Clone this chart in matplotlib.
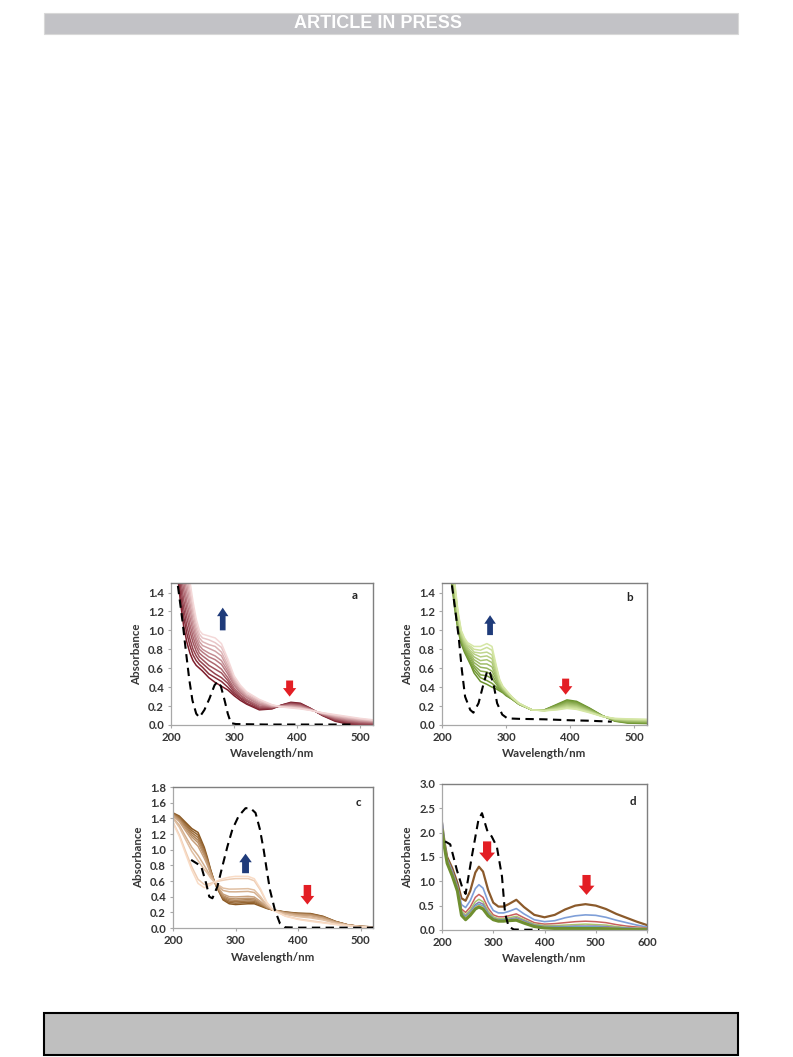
import numpy as np
import matplotlib.pyplot as plt
from matplotlib.patches import Rectangle, FancyArrow
from matplotlib.colors import to_rgb

plt.rcParams['font.family'] = ['Lato', 'DejaVu Sans']

# ---- panel a: 11 spectra, dark (first) -> light (last); one row per wavelength
wl_a = [210, 215, 220, 225, 230, 235, 240, 245, 250, 260, 270, 280, 290, 300,
        310, 320, 340, 360, 375, 390, 405, 420, 440, 460, 480, 500, 520]
abs_a = [
    [1.62, 1.70, 1.78, 1.86, 1.94, 2.02, 2.10, 2.18, 2.26, 2.33, 2.40],
    [1.30, 1.39, 1.48, 1.57, 1.66, 1.75, 1.84, 1.93, 2.02, 2.11, 2.20],
    [1.05, 1.15, 1.24, 1.33, 1.43, 1.52, 1.62, 1.71, 1.81, 1.90, 2.00],
    [0.88, 0.97, 1.05, 1.14, 1.23, 1.31, 1.40, 1.49, 1.58, 1.66, 1.75],
    [0.76, 0.84, 0.91, 0.99, 1.06, 1.14, 1.22, 1.29, 1.37, 1.44, 1.52],
    [0.68, 0.74, 0.80, 0.87, 0.93, 0.99, 1.05, 1.11, 1.18, 1.24, 1.30],
    [0.63, 0.68, 0.73, 0.78, 0.83, 0.88, 0.92, 0.97, 1.02, 1.07, 1.12],
    [0.60, 0.64, 0.68, 0.72, 0.76, 0.80, 0.84, 0.88, 0.92, 0.96, 1.00],
    [0.57, 0.61, 0.65, 0.69, 0.73, 0.77, 0.80, 0.84, 0.88, 0.92, 0.96],
    [0.50, 0.54, 0.59, 0.63, 0.68, 0.72, 0.76, 0.81, 0.85, 0.90, 0.94],
    [0.45, 0.50, 0.54, 0.59, 0.64, 0.69, 0.73, 0.78, 0.83, 0.87, 0.92],
    [0.41, 0.46, 0.50, 0.55, 0.59, 0.64, 0.68, 0.73, 0.77, 0.82, 0.86],
    [0.37, 0.40, 0.44, 0.47, 0.50, 0.54, 0.57, 0.60, 0.63, 0.67, 0.70],
    [0.31, 0.33, 0.35, 0.37, 0.39, 0.42, 0.44, 0.46, 0.48, 0.50, 0.52],
    [0.26, 0.28, 0.29, 0.31, 0.32, 0.34, 0.36, 0.37, 0.39, 0.40, 0.42],
    [0.22, 0.23, 0.25, 0.26, 0.27, 0.29, 0.30, 0.31, 0.32, 0.34, 0.35],
    [0.16, 0.17, 0.18, 0.19, 0.20, 0.215, 0.225, 0.235, 0.25, 0.26, 0.27],
    [0.17, 0.175, 0.18, 0.185, 0.19, 0.19, 0.195, 0.20, 0.205, 0.21, 0.215],
    [0.21, 0.21, 0.205, 0.205, 0.20, 0.20, 0.20, 0.195, 0.195, 0.19, 0.19],
    [0.24, 0.234, 0.228, 0.222, 0.216, 0.21, 0.204, 0.198, 0.192, 0.186, 0.18],
    [0.23, 0.224, 0.218, 0.212, 0.206, 0.20, 0.194, 0.188, 0.182, 0.176, 0.17],
    [0.18, 0.178, 0.175, 0.173, 0.17, 0.168, 0.165, 0.163, 0.16, 0.158, 0.155],
    [0.10, 0.103, 0.106, 0.109, 0.112, 0.115, 0.118, 0.121, 0.124, 0.127, 0.13],
    [0.04, 0.047, 0.054, 0.061, 0.068, 0.075, 0.082, 0.089, 0.096, 0.103, 0.11],
    [0.01, 0.018, 0.026, 0.034, 0.042, 0.05, 0.058, 0.066, 0.074, 0.082, 0.09],
    [0.0, 0.007, 0.014, 0.021, 0.028, 0.035, 0.042, 0.049, 0.056, 0.063, 0.07],
    [0.0, 0.006, 0.011, 0.017, 0.022, 0.028, 0.033, 0.039, 0.044, 0.05, 0.055],
]
ref_wl_a = [211, 218, 224, 229, 234, 240, 245, 253, 261, 269, 274, 279, 285,
            290, 295, 303, 350, 400, 450, 485]
ref_abs_a = [1.47, 1.11, 0.76, 0.48, 0.26, 0.12, 0.08, 0.16, 0.28, 0.42, 0.46,
             0.41, 0.26, 0.12, 0.02, 0.01, 0.005, 0.005, 0.005, 0.005]

# ---- panel b
wl_b = [212, 216, 220, 225, 230, 235, 240, 245, 250, 260, 270, 278, 285, 290,
        295, 300, 310, 320, 340, 360, 380, 395, 410, 430, 450, 470, 490, 520]
abs_b = [
    [1.60, 1.66, 1.72, 1.78, 1.84, 1.90, 1.96, 2.02, 2.08, 2.14, 2.20],
    [1.45, 1.49, 1.53, 1.57, 1.61, 1.65, 1.69, 1.73, 1.77, 1.81, 1.85],
    [1.22, 1.25, 1.28, 1.30, 1.33, 1.36, 1.39, 1.42, 1.44, 1.47, 1.50],
    [1.00, 1.02, 1.04, 1.06, 1.08, 1.10, 1.12, 1.14, 1.16, 1.18, 1.20],
    [0.86, 0.87, 0.89, 0.90, 0.92, 0.93, 0.94, 0.96, 0.97, 0.99, 1.00],
    [0.77, 0.785, 0.80, 0.815, 0.83, 0.845, 0.86, 0.875, 0.89, 0.905, 0.92],
    [0.70, 0.72, 0.73, 0.75, 0.77, 0.785, 0.80, 0.82, 0.84, 0.85, 0.87],
    [0.63, 0.65, 0.67, 0.70, 0.72, 0.74, 0.76, 0.78, 0.81, 0.83, 0.85],
    [0.55, 0.58, 0.61, 0.63, 0.66, 0.69, 0.72, 0.75, 0.77, 0.80, 0.83],
    [0.46, 0.50, 0.53, 0.57, 0.61, 0.645, 0.68, 0.72, 0.76, 0.79, 0.83],
    [0.43, 0.47, 0.52, 0.56, 0.60, 0.645, 0.69, 0.73, 0.77, 0.82, 0.86],
    [0.40, 0.44, 0.49, 0.53, 0.57, 0.615, 0.66, 0.70, 0.74, 0.79, 0.83],
    [0.38, 0.40, 0.43, 0.45, 0.48, 0.50, 0.52, 0.55, 0.57, 0.60, 0.62],
    [0.36, 0.37, 0.38, 0.40, 0.41, 0.42, 0.43, 0.44, 0.46, 0.47, 0.48],
    [0.34, 0.35, 0.35, 0.36, 0.37, 0.375, 0.38, 0.39, 0.40, 0.40, 0.41],
    [0.31, 0.32, 0.32, 0.33, 0.33, 0.34, 0.35, 0.35, 0.36, 0.36, 0.37],
    [0.27, 0.27, 0.27, 0.28, 0.28, 0.28, 0.28, 0.28, 0.29, 0.29, 0.29],
    [0.22, 0.22, 0.22, 0.22, 0.225, 0.225, 0.225, 0.225, 0.23, 0.23, 0.23],
    [0.16, 0.16, 0.16, 0.16, 0.16, 0.16, 0.16, 0.16, 0.16, 0.16, 0.16],
    [0.16, 0.159, 0.158, 0.157, 0.156, 0.155, 0.154, 0.153, 0.152, 0.151, 0.15],
    [0.22, 0.214, 0.208, 0.202, 0.196, 0.19, 0.184, 0.178, 0.172, 0.166, 0.16],
    [0.265, 0.256, 0.247, 0.238, 0.229, 0.22, 0.211, 0.202, 0.193, 0.184, 0.175],
    [0.25, 0.24, 0.233, 0.225, 0.216, 0.207, 0.199, 0.19, 0.182, 0.173, 0.165],
    [0.18, 0.175, 0.17, 0.165, 0.16, 0.155, 0.15, 0.145, 0.14, 0.135, 0.13],
    [0.10, 0.099, 0.098, 0.097, 0.096, 0.095, 0.094, 0.093, 0.092, 0.091, 0.09],
    [0.04, 0.043, 0.046, 0.049, 0.052, 0.055, 0.058, 0.061, 0.064, 0.067, 0.07],
    [0.02, 0.025, 0.029, 0.034, 0.038, 0.043, 0.047, 0.052, 0.056, 0.061, 0.065],
    [0.015, 0.02, 0.024, 0.029, 0.033, 0.038, 0.042, 0.047, 0.051, 0.056, 0.06],
]
ref_wl_b = [213, 215, 220, 226, 231, 236, 244, 249, 257, 265, 271, 275, 281,
            286, 294, 302, 320, 360, 400, 430, 465]
ref_abs_b = [1.62, 1.5, 1.25, 0.93, 0.58, 0.30, 0.16, 0.13, 0.23, 0.44, 0.58,
             0.55, 0.41, 0.23, 0.11, 0.07, 0.065, 0.06, 0.05, 0.045, 0.035]

# ---- panel c: 10 spectra, dark brown -> light peach
wl_c = [200, 210, 220, 230, 240, 250, 255, 260, 265, 270, 280, 290, 300, 320,
        330, 340, 350, 360, 380, 400, 420, 440, 460, 480, 500, 520]
abs_c = [
    [1.47, 1.463, 1.457, 1.45, 1.444, 1.435, 1.41, 1.40, 1.35, 1.34],
    [1.43, 1.417, 1.404, 1.391, 1.378, 1.36, 1.313, 1.287, 1.191, 1.17],
    [1.35, 1.33, 1.31, 1.29, 1.27, 1.242, 1.17, 1.13, 0.982, 0.95],
    [1.27, 1.244, 1.217, 1.19, 1.164, 1.127, 1.031, 0.978, 0.782, 0.74],
    [1.22, 1.188, 1.155, 1.122, 1.09, 1.044, 0.927, 0.862, 0.622, 0.57],
    [1.03, 1.004, 0.978, 0.953, 0.927, 0.891, 0.798, 0.747, 0.556, 0.515],
    [0.90, 0.88, 0.86, 0.845, 0.826, 0.80, 0.73, 0.70, 0.56, 0.53],
    [0.75, 0.74, 0.73, 0.72, 0.71, 0.70, 0.66, 0.64, 0.57, 0.55],
    [0.62, 0.618, 0.616, 0.614, 0.612, 0.609, 0.602, 0.598, 0.583, 0.58],
    [0.52, 0.524, 0.528, 0.532, 0.536, 0.542, 0.556, 0.564, 0.594, 0.60],
    [0.36, 0.374, 0.387, 0.40, 0.414, 0.433, 0.48, 0.51, 0.61, 0.63],
    [0.31, 0.327, 0.344, 0.361, 0.378, 0.40, 0.463, 0.497, 0.623, 0.65],
    [0.30, 0.318, 0.336, 0.354, 0.372, 0.397, 0.462, 0.498, 0.631, 0.66],
    [0.31, 0.328, 0.345, 0.363, 0.38, 0.405, 0.468, 0.503, 0.632, 0.66],
    [0.31, 0.326, 0.342, 0.358, 0.374, 0.396, 0.454, 0.486, 0.604, 0.63],
    [0.28, 0.291, 0.302, 0.313, 0.324, 0.339, 0.379, 0.401, 0.482, 0.50],
    [0.25, 0.254, 0.258, 0.262, 0.266, 0.272, 0.286, 0.294, 0.324, 0.33],
    [0.23, 0.23, 0.23, 0.23, 0.23, 0.23, 0.23, 0.23, 0.23, 0.23],
    [0.205, 0.202, 0.20, 0.197, 0.194, 0.19, 0.18, 0.175, 0.154, 0.15],
    [0.19, 0.186, 0.182, 0.178, 0.174, 0.168, 0.154, 0.146, 0.116, 0.11],
    [0.185, 0.18, 0.175, 0.17, 0.165, 0.158, 0.14, 0.13, 0.093, 0.085],
    [0.15, 0.146, 0.142, 0.137, 0.133, 0.127, 0.112, 0.103, 0.072, 0.065],
    [0.085, 0.083, 0.081, 0.079, 0.077, 0.074, 0.067, 0.063, 0.048, 0.045],
    [0.04, 0.04, 0.039, 0.039, 0.038, 0.037, 0.036, 0.035, 0.031, 0.03],
    [0.02, 0.02, 0.02, 0.019, 0.019, 0.019, 0.018, 0.017, 0.015, 0.015],
    [0.015, 0.015, 0.015, 0.014, 0.014, 0.014, 0.013, 0.012, 0.01, 0.01],
]
ref_wl_c = [229, 245, 253, 258, 263, 271, 279, 287, 295, 305, 316, 324, 332,
            339, 345, 350, 355, 363, 371, 379, 400, 450, 520]
ref_abs_c = [0.87, 0.79, 0.57, 0.40, 0.38, 0.53, 0.79, 1.04, 1.26, 1.43, 1.53,
             1.53, 1.47, 1.26, 1.00, 0.74, 0.49, 0.23, 0.06, 0.01, 0.005,
             0.005, 0.005]

# ---- panel d: 8 spectra
wl_d = [200, 205, 210, 220, 230, 238, 246, 255, 265, 272, 280, 290, 300, 310,
        320, 330, 345, 360, 380, 400, 420, 440, 460, 480, 500, 520, 540, 560,
        580, 600]
d_brown = [2.20, 1.80, 1.50, 1.27, 0.97, 0.65, 0.60, 0.80, 1.18, 1.30, 1.20,
           0.82, 0.56, 0.48, 0.48, 0.53, 0.62, 0.47, 0.31, 0.26, 0.31, 0.42,
           0.50, 0.53, 0.50, 0.43, 0.33, 0.25, 0.17, 0.10]
d_blue = [2.25, 1.78, 1.46, 1.21, 0.90, 0.52, 0.46, 0.60, 0.85, 0.93, 0.86,
          0.58, 0.40, 0.35, 0.35, 0.38, 0.44, 0.33, 0.21, 0.17, 0.19, 0.25,
          0.29, 0.31, 0.30, 0.26, 0.20, 0.15, 0.10, 0.06]
d_red = [2.15, 1.74, 1.43, 1.17, 0.86, 0.43, 0.36, 0.47, 0.67, 0.73, 0.67,
         0.45, 0.31, 0.27, 0.27, 0.29, 0.33, 0.25, 0.15, 0.12, 0.13, 0.15,
         0.17, 0.18, 0.17, 0.15, 0.11, 0.08, 0.06, 0.04]
d_green = [2.12, 1.72, 1.41, 1.15, 0.84, 0.38, 0.31, 0.41, 0.58, 0.63, 0.58,
           0.39, 0.27, 0.23, 0.23, 0.25, 0.28, 0.21, 0.12, 0.09, 0.09, 0.10,
           0.11, 0.12, 0.11, 0.10, 0.07, 0.05, 0.04, 0.03]
d_purple = [2.10, 1.71, 1.40, 1.14, 0.83, 0.35, 0.28, 0.37, 0.52, 0.57, 0.53,
            0.35, 0.24, 0.21, 0.21, 0.22, 0.25, 0.19, 0.10, 0.07, 0.07, 0.07,
            0.08, 0.08, 0.08, 0.07, 0.05, 0.04, 0.03, 0.02]
d_teal = [2.08, 1.70, 1.39, 1.13, 0.82, 0.33, 0.26, 0.35, 0.49, 0.53, 0.49,
          0.33, 0.23, 0.20, 0.20, 0.21, 0.23, 0.17, 0.09, 0.06, 0.055, 0.055,
          0.06, 0.06, 0.06, 0.05, 0.04, 0.03, 0.02, 0.015]
d_orange = [2.06, 1.69, 1.38, 1.12, 0.81, 0.31, 0.24, 0.33, 0.46, 0.50, 0.46,
            0.31, 0.22, 0.19, 0.19, 0.20, 0.22, 0.16, 0.08, 0.05, 0.045, 0.045,
            0.045, 0.045, 0.045, 0.04, 0.03, 0.02, 0.015, 0.01]
d_olive = [2.05, 1.68, 1.37, 1.11, 0.80, 0.30, 0.21, 0.30, 0.43, 0.47, 0.43,
           0.29, 0.21, 0.18, 0.18, 0.19, 0.20, 0.14, 0.07, 0.04, 0.03, 0.03,
           0.03, 0.03, 0.03, 0.025, 0.02, 0.01, 0.008, 0.005]
ref_wl_d = [206, 216, 229, 239, 246, 258, 271, 278, 288, 297, 307, 317, 323,
            330, 340, 360, 390]
ref_abs_d = [1.82, 1.76, 1.23, 0.89, 0.74, 1.50, 2.26, 2.40, 2.05, 1.92, 1.71,
             1.10, 0.34, 0.07, 0.01, 0.005, 0.005]

FRAME_LIGHT = '#a8a8a8'
FRAME_DARK = '#7f7f7f'
TEXT = '#363636'
BLUE = '#1f3b7a'
RED = '#e31e24'


def shades(c0, c1, n):
    a, b = np.array(to_rgb(c0)), np.array(to_rgb(c1))
    return [tuple(a + (b - a) * t) for t in np.linspace(0, 1, n)]


def setup(ax, xlim, ylim, xticks, yticks, yfmt, letter, lpos):
    ax.set_xlim(*xlim)
    ax.set_ylim(*ylim)
    ax.set_xticks(xticks)
    ax.set_yticks(yticks)
    ax.set_yticklabels([yfmt.format(v) for v in yticks])
    for s in ('left', 'bottom'):
        ax.spines[s].set_color(FRAME_LIGHT)
        ax.spines[s].set_linewidth(0.9)
    for s in ('top', 'right'):
        ax.spines[s].set_color(FRAME_DARK)
        ax.spines[s].set_linewidth(1.0)
    ax.tick_params(direction='out', length=2.5, width=0.8, color=FRAME_LIGHT,
                   labelcolor=TEXT, labelsize=8.2, pad=2.5)
    for lab in ax.get_xticklabels() + ax.get_yticklabels():
        lab.set_fontweight('bold')
    ax.set_xlabel('Wavelength/nm', fontsize=8.3, fontweight='bold', color=TEXT,
                  labelpad=4)
    ax.set_ylabel('Absorbance', fontsize=8.3, fontweight='bold', color=TEXT,
                  labelpad=4)
    ax.text(lpos[0], lpos[1], letter, transform=ax.transAxes, fontsize=8.3,
            fontweight='bold', color='#222222', ha='center', va='center')


def block_arrow(ax, x, y0, y1, head_w, shaft_w, head_l, color):
    ax.add_patch(FancyArrow(x, y0, 0, y1 - y0, width=shaft_w, head_width=head_w,
                            head_length=head_l, length_includes_head=True,
                            color=color, lw=0, zorder=5))


def family(ax, wl, rows, c0, c1):
    curves = np.array(rows).T
    cols = shades(c0, c1, len(curves))
    for y, c in zip(curves, cols):
        ax.plot(wl, y, color=c, lw=1.1, solid_joinstyle='round')


def dashed(ax, wl, y):
    ax.plot(wl, y, color='black', lw=1.5, ls=(0, (4, 2.6)), zorder=4)


fig = plt.figure(figsize=(7.93, 10.57), dpi=100)

# page decorations
fig.patches.append(Rectangle((0.0555, 0.9678), 0.875, 0.0199,
                             transform=fig.transFigure, facecolor='#c2c2c6',
                             edgecolor='#d8d8d8', lw=0.8))
fig.text(0.477, 0.9776, 'ARTICLE IN PRESS', color='white', fontsize=13,
         fontweight='bold', ha='center', va='center',
         family=['Liberation Sans Narrow', 'Liberation Sans', 'DejaVu Sans'])
fig.patches.append(Rectangle((0.0555, 0.0019), 0.875, 0.0397,
                             transform=fig.transFigure, facecolor='#bfbfbf',
                             edgecolor='black', lw=1.5))

# a
ax = fig.add_axes([0.2156, 0.3141, 0.2547, 0.1343])
family(ax, wl_a, abs_a, '#7d1d2b', '#f4d8d8')
dashed(ax, ref_wl_a, ref_abs_a)
setup(ax, (200, 520), (0, 1.5), [200, 300, 400, 500], np.arange(0, 1.41, 0.2),
      '{:.1f}', 'a', (0.91, 0.915))
block_arrow(ax, 282, 1.00, 1.24, 18, 9, 0.09, BLUE)
block_arrow(ax, 388, 0.47, 0.30, 21, 11, 0.09, RED)

# b
ax = fig.add_axes([0.5574, 0.3141, 0.2585, 0.1343])
family(ax, wl_b, abs_b, '#6a922c', '#d6e7a6')
dashed(ax, ref_wl_b, ref_abs_b)
setup(ax, (200, 520), (0, 1.5), [200, 300, 400, 500], np.arange(0, 1.41, 0.2),
      '{:.1f}', 'b', (0.917, 0.90))
block_arrow(ax, 275, 0.95, 1.16, 18, 9, 0.09, BLUE)
block_arrow(ax, 393, 0.49, 0.32, 21, 11, 0.09, RED)

# c
ax = fig.add_axes([0.2182, 0.1220, 0.2522, 0.1334])
family(ax, wl_c, abs_c, '#8a5822', '#f9dcc6')
dashed(ax, ref_wl_c, ref_abs_c)
setup(ax, (200, 520), (0, 1.8), [200, 300, 400, 500], np.arange(0, 1.81, 0.2),
      '{:.1f}', 'c', (0.925, 0.887))
block_arrow(ax, 316, 0.70, 0.95, 20, 11, 0.11, BLUE)
block_arrow(ax, 415, 0.55, 0.30, 22, 12, 0.11, RED)

# d
ax = fig.add_axes([0.5574, 0.1202, 0.2585, 0.1381])
d_series = [d_brown, d_blue, d_red, d_green, d_purple, d_teal, d_orange, d_olive]
d_colors = ['#8b5a2b', '#7f9fd8', '#c8605c', '#a8c66c', '#8e77b0', '#5fb4c8',
            '#f4a261', '#6f8f30']
d_widths = [1.6, 1.2, 1.1, 1.1, 1.1, 1.1, 1.1, 2.2]
for y, c, w in zip(d_series, d_colors, d_widths):
    ax.plot(wl_d, y, color=c, lw=w)
dashed(ax, ref_wl_d, ref_abs_d)
setup(ax, (200, 600), (0, 3.0), [200, 300, 400, 500, 600],
      np.arange(0, 3.01, 0.5), '{:.1f}', 'd', (0.93, 0.877))
block_arrow(ax, 288, 1.82, 1.40, 31, 16, 0.19, RED)
block_arrow(ax, 482, 1.13, 0.72, 31, 16, 0.19, RED)

fig.savefig('out.png', dpi=100)
